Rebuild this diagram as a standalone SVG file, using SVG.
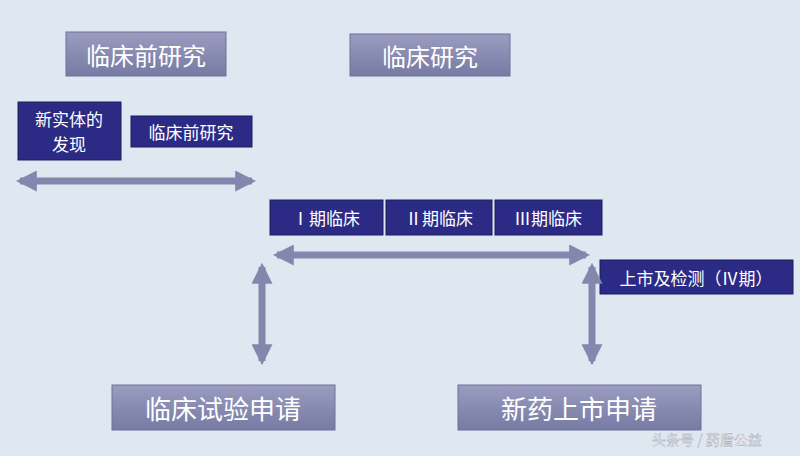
<svg xmlns="http://www.w3.org/2000/svg" width="800" height="456" viewBox="0 0 800 456">
<defs>
<linearGradient id="g" x1="0" y1="0" x2="0" y2="1"><stop offset="0" stop-color="#9a9cc0"/><stop offset="1" stop-color="#777aa2"/></linearGradient>
<marker id="ah" viewBox="0 0 10 10" refX="8" refY="5" markerWidth="3" markerHeight="3" orient="auto-start-reverse"><path d="M0,0 L10,5 L0,10 z" fill="#8487ad"/></marker>
</defs>
<style>
.t{fill:url(#g);stroke:#6e7199;stroke-width:1}
.d{fill:#2b2b86;stroke:#1c1c60;stroke-width:1}
.tx{font-family:"Noto Sans CJK SC","Liberation Sans",sans-serif;fill:#fff;text-anchor:middle;dominant-baseline:central}
.c line{stroke:#8487ad;stroke-width:7;marker-start:url(#ah);marker-end:url(#ah)}
</style>
<rect width="800" height="456" fill="#dfe8f1"/>
<g id="n1"><rect class="t" x="66" y="32" width="160" height="44"/><text class="tx" x="146" y="54" font-size="24">临床前研究</text></g>
<g id="n2"><rect class="t" x="350" y="34" width="160" height="42"/><text class="tx" x="430" y="55" font-size="24">临床研究</text></g>
<g id="n3"><rect class="d" x="18" y="102" width="103" height="58"/><text class="tx" x="69" y="118" font-size="17">新实体的</text><text class="tx" x="69" y="143" font-size="17">发现</text></g>
<g id="n4"><rect class="d" x="131" y="116" width="121" height="31"/><text class="tx" x="191" y="131" font-size="17">临床前研究</text></g>
<g id="n5"><rect class="d" x="270" y="200" width="113" height="35"/><text class="tx" x="326" y="217" font-size="17">Ⅰ期临床</text></g>
<g id="n6"><rect class="d" x="386" y="200" width="106" height="35"/><text class="tx" x="439" y="217" font-size="17">Ⅱ期临床</text></g>
<g id="n7"><rect class="d" x="495" y="200" width="107" height="35"/><text class="tx" x="548" y="217" font-size="17">Ⅲ期临床</text></g>
<g id="n8"><rect class="d" x="600" y="260" width="193" height="34"/><text class="tx" x="696" y="277" font-size="17">上市及检测（Ⅳ期）</text></g>
<g id="n9"><rect class="t" x="112" y="385" width="223" height="45"/><text class="tx" x="223" y="407" font-size="26">临床试验申请</text></g>
<g id="n10"><rect class="t" x="458" y="385" width="243" height="45"/><text class="tx" x="579" y="407" font-size="26">新药上市申请</text></g>
<g class="c">
<line x1="20" y1="181" x2="252" y2="181"/>
<line x1="277" y1="255" x2="586" y2="255"/>
<line x1="262" y1="267" x2="262" y2="361"/>
<line x1="592" y1="267" x2="592" y2="361"/>
</g>
<text x="652" y="445" font-family="Noto Sans CJK SC,sans-serif" font-size="14" fill="#f4f6fa" stroke="#a0a4b0" stroke-width="0.4">头条号 / 药盾公益</text>
</svg>
